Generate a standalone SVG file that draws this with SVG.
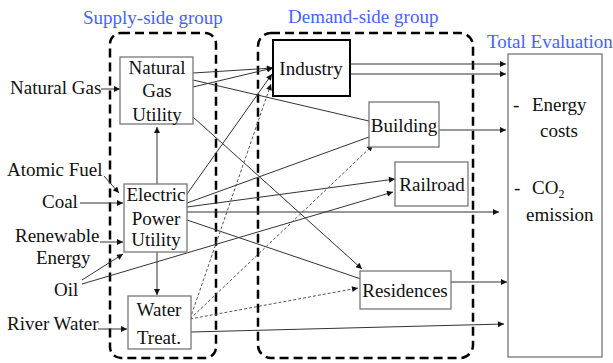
<svg xmlns="http://www.w3.org/2000/svg" width="613" height="363" viewBox="0 0 613 363">
  <defs>
    <marker id="tip" viewBox="0 0 10 10" refX="10" refY="5" markerWidth="7" markerHeight="6" markerUnits="userSpaceOnUse" orient="auto">
      <path d="M0,0 L10,5 L0,10 z" fill="#111"/>
    </marker>
  </defs>

  <!-- group frames -->
  <g id="groups" fill="none" stroke="#000" stroke-width="2.5" stroke-dasharray="9 5">
    <rect id="supply-group" x="110" y="33" width="106" height="325" rx="11"/>
    <rect id="demand-group" x="258" y="33" width="215" height="325" rx="13"/>
  </g>

  <!-- connectors -->
  <g id="connectors" fill="none" stroke="#333" stroke-width="1" marker-end="url(#tip)">
    <!-- inputs -->
    <line x1="101" y1="89" x2="120" y2="89"/>
    <line x1="104" y1="176" x2="119" y2="193"/>
    <line x1="80" y1="203" x2="123" y2="203"/>
    <line x1="100" y1="242" x2="123" y2="242"/>
    <line x1="82" y1="280" x2="123" y2="254"/>
    <line x1="82" y1="284" x2="393" y2="192"/>
    <line x1="98" y1="329" x2="127" y2="329"/>
    <!-- supply internal -->
    <line x1="157" y1="184" x2="157" y2="127"/>
    <line x1="157" y1="252" x2="157" y2="295"/>
    <!-- natural gas utility -->
    <line x1="193" y1="73" x2="273" y2="68"/>
    <line x1="193" y1="87" x2="273" y2="68"/>
    <line x1="193" y1="80" x2="369" y2="121" marker-end="none"/>
    <line x1="193" y1="117" x2="362" y2="269"/>
    <!-- electric power utility -->
    <line x1="187" y1="194" x2="272" y2="74"/>
    <line x1="187" y1="203" x2="369" y2="137" marker-end="none"/>
    <line x1="187" y1="207" x2="395" y2="179"/>
    <line x1="187" y1="212" x2="499" y2="212"/>
    <line x1="187" y1="220" x2="361" y2="279" marker-end="none"/>
    <!-- water treatment, dotted supply links -->
    <g stroke="#555" stroke-dasharray="3 2">
      <line x1="190" y1="319" x2="271" y2="84"/>
      <line x1="190" y1="319" x2="373" y2="145"/>
      <line x1="190" y1="319" x2="358" y2="288"/>
    </g>
    <line x1="191" y1="332" x2="504" y2="324"/>
    <!-- demand to evaluation -->
    <line x1="350" y1="64" x2="506" y2="64"/>
    <line x1="350" y1="74" x2="506" y2="74"/>
    <line x1="439" y1="130" x2="506" y2="130"/>
    <line x1="451" y1="282" x2="507" y2="282"/>
  </g>

  <!-- group titles -->
  <g id="titles" fill="#4462ff" font-size="19">
    <text style="font-family:'Liberation Serif',serif" x="83" y="24">Supply-side group</text>
    <text style="font-family:'Liberation Serif',serif" x="288" y="23">Demand-side group</text>
    <text style="font-family:'Liberation Serif',serif" x="487" y="48">Total Evaluation</text>
  </g>

  <!-- resource inputs -->
  <g id="inputs" fill="#111" font-size="19">
    <text style="font-family:'Liberation Serif',serif" x="10" y="94">Natural Gas</text>
    <text style="font-family:'Liberation Serif',serif" x="7" y="176">Atomic Fuel</text>
    <text style="font-family:'Liberation Serif',serif" x="42" y="208">Coal</text>
    <text style="font-family:'Liberation Serif',serif" x="15" y="242">Renewable</text>
    <text style="font-family:'Liberation Serif',serif" x="36" y="264">Energy</text>
    <text style="font-family:'Liberation Serif',serif" x="54" y="296">Oil</text>
    <text style="font-family:'Liberation Serif',serif" x="7" y="330">River Water</text>
  </g>

  <!-- nodes -->
  <g id="nodes" fill="#111" font-size="19" text-anchor="middle">
    <g id="natural-gas-utility">
      <rect x="120" y="57" width="73" height="67" fill="#fff" stroke="#777" stroke-width="1.3"/>
      <text style="font-family:'Liberation Serif',serif" x="157" y="74">Natural</text>
      <text style="font-family:'Liberation Serif',serif" x="157" y="97">Gas</text>
      <text style="font-family:'Liberation Serif',serif" x="157" y="121">Utility</text>
    </g>
    <g id="electric-power-utility">
      <rect x="124" y="184" width="63" height="68" fill="#fff" stroke="#777" stroke-width="1.3"/>
      <text style="font-family:'Liberation Serif',serif" x="156" y="201">Electric</text>
      <text style="font-family:'Liberation Serif',serif" x="156" y="225">Power</text>
      <text style="font-family:'Liberation Serif',serif" x="156" y="246">Utility</text>
    </g>
    <g id="water-treatment">
      <rect x="128" y="296" width="63" height="53" fill="#fff" stroke="#777" stroke-width="1.3"/>
      <text style="font-family:'Liberation Serif',serif" x="159" y="316">Water</text>
      <text style="font-family:'Liberation Serif',serif" x="159" y="344">Treat.</text>
    </g>
    <g id="industry">
      <rect x="273" y="40" width="77" height="56" fill="#fff" stroke="#000" stroke-width="2"/>
      <text style="font-family:'Liberation Serif',serif" x="311" y="75">Industry</text>
    </g>
    <g id="building">
      <rect x="369" y="102" width="70" height="45" fill="#fff" stroke="#777" stroke-width="1.3"/>
      <text style="font-family:'Liberation Serif',serif" x="404" y="132">Building</text>
    </g>
    <g id="railroad">
      <rect x="395" y="162" width="73" height="44" fill="#fff" stroke="#777" stroke-width="1.3"/>
      <text style="font-family:'Liberation Serif',serif" x="432" y="191">Railroad</text>
    </g>
    <g id="residences">
      <rect x="360" y="271" width="91" height="38" fill="#fff" stroke="#777" stroke-width="1.3"/>
      <text style="font-family:'Liberation Serif',serif" x="405" y="297">Residences</text>
    </g>
  </g>

  <!-- evaluation panel -->
  <g id="total-evaluation" fill="#111" font-size="19">
    <rect x="508" y="54" width="94" height="303" fill="#fff" stroke="#777" stroke-width="1.3"/>
    <text style="font-family:'Liberation Serif',serif" x="513" y="111">-</text>
    <text style="font-family:'Liberation Serif',serif" x="532" y="111">Energy</text>
    <text style="font-family:'Liberation Serif',serif" x="540" y="137">costs</text>
    <text style="font-family:'Liberation Serif',serif" x="514" y="194">-</text>
    <text style="font-family:'Liberation Serif',serif" x="532" y="194">CO<tspan font-size="12" dy="4">2</tspan></text>
    <text style="font-family:'Liberation Serif',serif" x="526" y="221">emission</text>
  </g>
</svg>
